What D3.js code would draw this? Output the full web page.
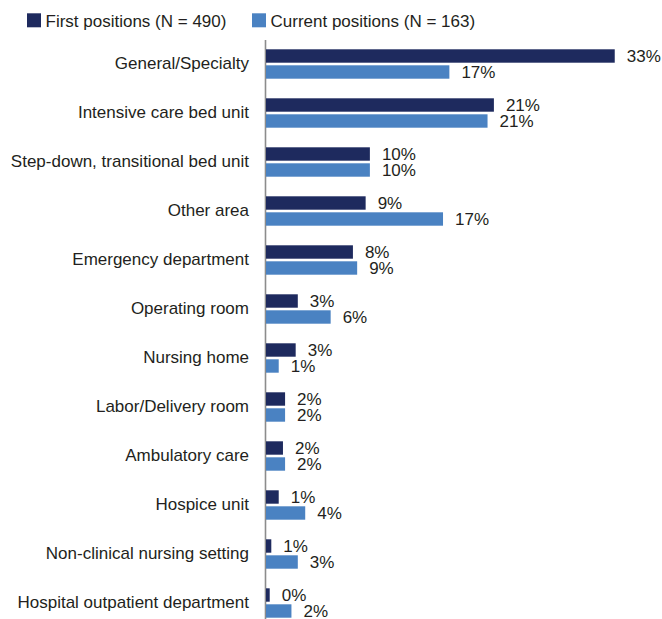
<!DOCTYPE html>
<html>
<head>
<meta charset="utf-8">
<script src="https://cdn.jsdelivr.net/npm/d3@7"></script>
<style>
  html, body { margin: 0; padding: 0; background: #fff; }
  svg { display: block; }
  text { font-family: "Liberation Sans", Arial, Helvetica, sans-serif; fill: #231f20; }
</style>
</head>
<body>
<svg id="chart" width="662" height="619"></svg>
<script>
const categories = [
  "General/Specialty",
  "Intensive care bed unit",
  "Step-down, transitional bed unit",
  "Other area",
  "Emergency department",
  "Operating room",
  "Nursing home",
  "Labor/Delivery room",
  "Ambulatory care",
  "Hospice unit",
  "Non-clinical nursing setting",
  "Hospital outpatient department"
];
const firstValues   = [32.9, 21.5, 9.8, 9.4, 8.2, 3.0, 2.8, 1.8, 1.6, 1.2, 0.5, 0.35];
const currentValues = [17.3, 20.9, 9.8, 16.7, 8.6, 6.1, 1.2, 1.8, 1.8, 3.7, 3.0, 2.4];
const firstLabels   = ["33%", "21%", "10%", "9%", "8%", "3%", "3%", "2%", "2%", "1%", "1%", "0%"];
const currentLabels = ["17%", "21%", "10%", "17%", "9%", "6%", "1%", "2%", "2%", "4%", "3%", "2%"];
const seriesNames = ["First positions (N = 490)", "Current positions (N = 163)"];
const seriesColors = ["#1e2a5e", "#4a82c2"];

const svg = d3.select("#chart");
const x0 = 266;
const x = d3.scaleLinear().domain([0, 33]).range([x0, x0 + 349.8]);
const y = d3.scaleBand().domain(categories).range([39.5, 39.5 + 12 * 49]).padding(0);
const barH = 13.4, gap = 1.3;

// axis with category labels
const axis = d3.axisLeft(y).tickSizeInner(0).tickSizeOuter(0).tickPadding(16);
const gAxis = svg.append("g").attr("transform", "translate(265,0)").call(axis);
gAxis.select(".domain").attr("stroke", "#8c8c8c").attr("stroke-width", 1.6);
gAxis.selectAll(".tick text")
  .attr("font-family", '"Liberation Sans", Arial, sans-serif')
  .attr("font-size", 17)
  .attr("fill", "#231f20");

const rows = categories.map((c, i) => ({
  c, f: firstValues[i], cu: currentValues[i], fl: firstLabels[i], cl: currentLabels[i]
}));
const center = d => y(d.c) + y.bandwidth() / 2;

// first positions bars
svg.append("g").selectAll("rect").data(rows).join("rect")
  .attr("x", x0)
  .attr("y", d => center(d) - gap - barH)
  .attr("width", d => x(d.f) - x0)
  .attr("height", barH)
  .attr("fill", seriesColors[0]);

// current positions bars
svg.append("g").selectAll("rect").data(rows).join("rect")
  .attr("x", x0)
  .attr("y", d => center(d) + gap)
  .attr("width", d => x(d.cu) - x0)
  .attr("height", barH)
  .attr("fill", seriesColors[1]);

// value labels
svg.append("g").selectAll("text").data(rows).join("text")
  .attr("x", d => x(d.f) + 12)
  .attr("y", d => center(d) - gap - barH / 2)
  .attr("dy", "0.36em")
  .attr("font-size", 17)
  .text(d => d.fl);

svg.append("g").selectAll("text").data(rows).join("text")
  .attr("x", d => x(d.cu) + 12)
  .attr("y", d => center(d) + gap + barH / 2)
  .attr("dy", "0.36em")
  .attr("font-size", 17)
  .text(d => d.cl);

// legend
const legendX = [27, 252];
const lg = svg.append("g");
seriesNames.forEach((name, i) => {
  lg.append("rect").attr("x", legendX[i]).attr("y", 13.3).attr("width", 14).attr("height", 14)
    .attr("fill", seriesColors[i]);
  lg.append("text").attr("x", legendX[i] + 18.5).attr("y", 26.7)
    .attr("font-size", 17).text(name);
});
</script>
</body>
</html>
